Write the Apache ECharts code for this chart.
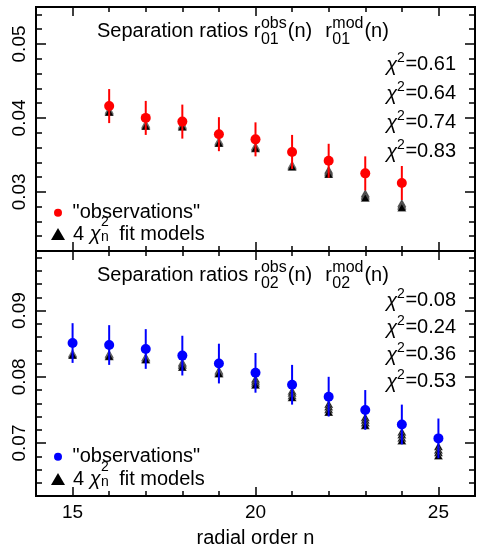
<!DOCTYPE html>
<html>
<head>
<meta charset="utf-8">
<script src="https://cdn.jsdelivr.net/npm/echarts@6/dist/echarts.min.js"></script>
<style>
  html, body { margin: 0; padding: 0; background: #fff; }
  #chart { width: 485px; height: 553px; }
</style>
</head>
<body>
<div id="chart"></div>
<script>
// radial orders
const n01 = [16, 17, 18, 19, 20, 21, 22, 23, 24];
const n02 = [15, 16, 17, 18, 19, 20, 21, 22, 23, 24, 25];

// r01: observations, errors, 4 fit models
const obs01 = [0.0416, 0.0400, 0.0395, 0.0378, 0.0371, 0.0354, 0.0342, 0.0325, 0.0312];
const err01 = [0.0023, 0.0023, 0.0023, 0.0023, 0.0023, 0.0023, 0.0023, 0.0023, 0.0023];
const mod01 = [
    [0.0411, 0.0392, 0.0391, 0.0369, 0.0362, 0.0337, 0.0330, 0.0298, 0.0285],
    [0.0410, 0.0391, 0.0390, 0.0368, 0.0361, 0.0336, 0.0328, 0.0296, 0.0283],
    [0.0409, 0.0390, 0.0389, 0.0367, 0.0360, 0.0335, 0.0326, 0.0294, 0.0281],
    [0.0408, 0.0389, 0.0388, 0.0366, 0.0359, 0.0334, 0.0324, 0.0292, 0.0279]
];

// r02: observations, errors, 4 fit models
const obs02 = [0.0851, 0.0848, 0.0842, 0.0832, 0.0820, 0.0806, 0.0788, 0.0770, 0.0750, 0.0728, 0.0707];
const err02 = [0.0030, 0.0030, 0.0030, 0.0030, 0.0030, 0.0030, 0.0030, 0.0030, 0.0030, 0.0030, 0.0030];
const mod02 = [
    [0.0836, 0.0835, 0.0830, 0.0822, 0.0810, 0.0797, 0.0779, 0.0759, 0.0739, 0.0717, 0.0695],
    [0.0835, 0.0834, 0.0829, 0.0820, 0.0808, 0.0794, 0.0776, 0.0755, 0.0735, 0.0713, 0.0690],
    [0.0834, 0.0832, 0.0827, 0.0818, 0.0806, 0.0791, 0.0772, 0.0751, 0.0731, 0.0708, 0.0686],
    [0.0833, 0.0831, 0.0826, 0.0815, 0.0805, 0.0788, 0.0769, 0.0747, 0.0727, 0.0704, 0.0681]
];

const chi01 = ["0.61", "0.64", "0.74", "0.83"];
const chi02 = ["0.08", "0.24", "0.36", "0.53"];

// ticks
const xMajor = [15, 20, 25];
const xMinor = [15, 16, 17, 18, 19, 20, 21, 22, 23, 24, 25];
const yMajor01 = [0.03, 0.04, 0.05];
const yMinor01 = [0.024, 0.026, 0.028, 0.032, 0.034, 0.036, 0.038, 0.042, 0.044, 0.046, 0.048, 0.052, 0.054];
const yMajor02 = [0.07, 0.08, 0.09];
const yMinor02 = [0.064, 0.066, 0.068, 0.072, 0.074, 0.076, 0.078, 0.082, 0.084, 0.086, 0.088, 0.092, 0.094, 0.096, 0.098];

const FAM = '"Liberation Sans", Arial, sans-serif';
const FS = 20;   // main text
const SS = 16;   // sup/sub in titles
const chart = echarts.init(document.getElementById("chart"));

// text width helper
const ctx = document.createElement("canvas").getContext("2d");
const tw = (s, size, style) => {
    ctx.font = (style || "") + " " + size + "px " + FAM;
    return ctx.measureText(s).width;
};

const txt = (x, y, s, size, fontStyle) => ({
    type: "text", x: x, y: y, silent: true,
    style: {
        text: s, fontSize: size, fontFamily: FAM, fontStyle: fontStyle || "normal", fill: "#000",
        align: "left", textAlign: "left", verticalAlign: "middle", textVerticalAlign: "middle"
    }
});

// "Separation ratios r^obs_ll(n)   r^mod_ll(n)"
function titleEls(x0, yc, ll) {
    const els = [];
    const head = "Separation ratios r";
    els.push(txt(x0, yc, head, FS));
    let x = x0 + tw(head, FS) + 0.5;
    els.push(txt(x, yc - 7.5, "obs", SS));
    els.push(txt(x, yc + 9, ll, SS));
    x += Math.max(tw("obs", SS), tw(ll, SS)) + 1;
    els.push(txt(x, yc, "(n)", FS));
    x += tw("(n)", FS) + 13;
    els.push(txt(x, yc, "r", FS));
    x += tw("r", FS) + 0.5;
    els.push(txt(x, yc - 7.5, "mod", SS));
    els.push(txt(x, yc + 9, ll, SS));
    x += Math.max(tw("mod", SS), tw(ll, SS)) + 1;
    els.push(txt(x, yc, "(n)", FS));
    return els;
}

// right aligned "χ²=v"
function chiEls(right, ys, vals) {
    const els = [];
    vals.forEach((v, i) => {
        const t = "=" + v;
        let x = right - tw(t, FS);
        els.push(txt(x, ys[i], t, FS));
        x -= tw("2", 14) + 0.5;
        els.push(txt(x, ys[i] - 6, "2", 14));
        x -= tw("χ", FS, "italic");
        els.push(txt(x, ys[i] + 1, "χ", FS, "italic"));
    });
    return els;
}

// legend: icon centres at cObs / cMod
function legends(obsName, modName, cObs, cMod) {
    const textX = 51 + 14 + 5 + 3;
    const chiW = tw("4 ", FS) + tw("χ", FS, "italic");
    return {
        legend: [
            {
                data: [obsName], left: 54, top: cObs - 4, padding: 0, itemWidth: 8, itemHeight: 8,
                selectedMode: false, formatter: () => ' "observations"',
                textStyle: { fontSize: FS, fontFamily: FAM, color: "#000" }
            },
            {
                data: [{ name: modName, icon: "triangle", itemStyle: { color: "#000", borderWidth: 0 } }],
                left: 51, top: cMod - 6, padding: 0,
                itemWidth: 14, itemHeight: 12, selectedMode: false,
                formatter: () => "{p|}{t|4 }{c|χ}{g|}{t| fit models}",
                textStyle: {
                    fontSize: FS, fontFamily: FAM, color: "#000",
                    rich: {
                        p: { width: 3 },
                        t: { fontSize: FS, fontFamily: FAM, color: "#000" },
                        c: { fontSize: FS, fontFamily: FAM, color: "#000", fontStyle: "italic" },
                        g: { width: 13 }
                    }
                }
            }
        ],
        graphic: [
            txt(textX + chiW + 0.5, cMod - 7.5, "2", 14),
            txt(textX + chiW + 0.5, cMod + 7.5, "n", 14)
        ]
    };
}

// axes
function xAx(grid, pos, vals, len, labels, extra) {
    return Object.assign({
        type: "value", gridIndex: grid, position: pos, min: 14, max: 26,
        axisLine: { show: true, onZero: false, lineStyle: { color: "#000", width: 2 } },
        splitLine: { show: false },
        axisTick: { show: true, inside: true, length: len, customValues: vals, lineStyle: { color: "#000", width: 1.5 } },
        axisLabel: labels
            ? { show: true, customValues: vals, margin: 7, fontSize: 19, fontFamily: FAM, color: "#000" }
            : { show: false }
    }, extra || {});
}
function yAx(grid, pos, min, max, vals, len, labels) {
    return {
        type: "value", gridIndex: grid, position: pos, min: min, max: max,
        axisLine: { show: true, onZero: false, lineStyle: { color: "#000", width: 2 } },
        splitLine: { show: false },
        axisTick: { show: true, inside: true, length: len, customValues: vals, lineStyle: { color: "#000", width: 1.5 } },
        axisLabel: labels
            ? { show: true, customValues: vals, rotate: 90, margin: 7, fontSize: 19, fontFamily: FAM, color: "#000",
                formatter: (v) => v.toFixed(2) }
            : { show: false }
    };
}

function errSeries(xs, ys, es, color, xi, yi) {
    return {
        type: "custom", xAxisIndex: xi, yAxisIndex: yi, z: 3, silent: true,
        data: xs.map((x, i) => [x, ys[i] - es[i], ys[i] + es[i]]),
        encode: { x: 0, y: [1, 2] },
        renderItem: (params, api) => {
            const p0 = api.coord([api.value(0), api.value(1)]);
            const p1 = api.coord([api.value(0), api.value(2)]);
            return {
                type: "line",
                shape: { x1: p0[0], y1: p0[1], x2: p1[0], y2: p1[1] },
                style: { stroke: color, lineWidth: 2 }
            };
        }
    };
}
function modSeries(name, xs, sets, xi, yi) {
    return sets.map((vals) => ({
        name: name, type: "scatter", xAxisIndex: xi, yAxisIndex: yi, z: 2, silent: true,
        symbol: "triangle", symbolSize: [9, 8],
        itemStyle: { color: "#000", opacity: 1, borderColor: "#fff", borderWidth: 0.3 },
        data: xs.map((x, i) => [x, vals[i]])
    }));
}
function obsSeries(name, xs, ys, color, xi, yi) {
    return {
        name: name, type: "scatter", xAxisIndex: xi, yAxisIndex: yi, z: 4, silent: true,
        symbol: "circle", symbolSize: 10,
        itemStyle: { color: color, opacity: 1 },
        data: xs.map((x, i) => [x, ys[i]])
    };
}

const lg1 = legends("obs01", "mod01", 206.7, 230);
const lg2 = legends("obs02", "mod02", 450.7, 475);

const option = {
    animation: false,
    backgroundColor: "#fff",
    grid: [
        { left: 36, top: 7, width: 439, height: 244 },
        { left: 36, top: 251, width: 439, height: 245 }
    ],
    xAxis: [
        xAx(0, "bottom", xMajor, 9, false),
        xAx(0, "bottom", xMinor, 5, false),
        xAx(0, "top", xMajor, 9, false),
        xAx(0, "top", xMinor, 5, false),
        xAx(1, "bottom", xMajor, 9, true, {
            name: "radial order n", nameLocation: "middle", nameGap: 32,
            nameTextStyle: { fontSize: FS, fontFamily: FAM, color: "#000" }
        }),
        xAx(1, "bottom", xMinor, 5, false),
        xAx(1, "top", xMajor, 9, false),
        xAx(1, "top", xMinor, 5, false)
    ],
    yAxis: [
        yAx(0, "left", 0.022, 0.055, yMajor01, 10, true),
        yAx(0, "left", 0.022, 0.055, yMinor01, 6, false),
        yAx(0, "right", 0.022, 0.055, yMajor01, 10, false),
        yAx(0, "right", 0.022, 0.055, yMinor01, 6, false),
        yAx(1, "left", 0.062, 0.099, yMajor02, 10, true),
        yAx(1, "left", 0.062, 0.099, yMinor02, 6, false),
        yAx(1, "right", 0.062, 0.099, yMajor02, 10, false),
        yAx(1, "right", 0.062, 0.099, yMinor02, 6, false)
    ],
    legend: lg1.legend.concat(lg2.legend),
    graphic: [].concat(
        titleEls(97, 31, "01"),
        titleEls(97, 275, "02"),
        chiEls(456, [64, 93, 122, 151], chi01),
        chiEls(456, [300, 327, 354, 381], chi02),
        lg1.graphic,
        lg2.graphic
    ),
    series: [].concat(
        modSeries("mod01", n01, mod01, 0, 0),
        [errSeries(n01, obs01, err01, "#ff0000", 0, 0), obsSeries("obs01", n01, obs01, "#ff0000", 0, 0)],
        modSeries("mod02", n02, mod02, 4, 4),
        [errSeries(n02, obs02, err02, "#0000ff", 4, 4), obsSeries("obs02", n02, obs02, "#0000ff", 4, 4)]
    )
};
chart.setOption(option);
</script>
</body>
</html>
